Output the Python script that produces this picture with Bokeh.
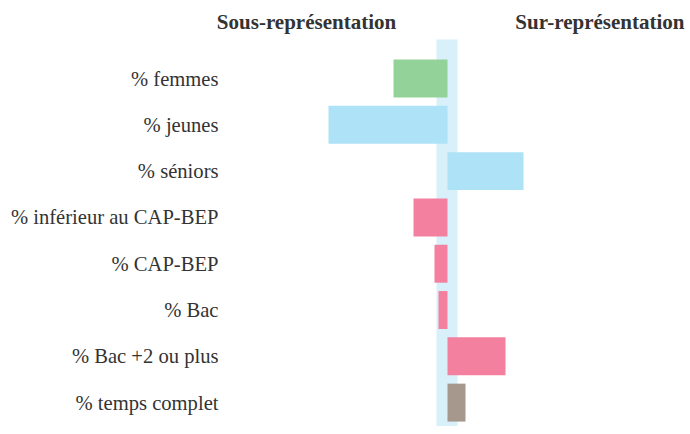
from bokeh.plotting import figure
from bokeh.models import ColumnDataSource, Range1d
from bokeh.core.properties import value
from bokeh.embed import file_html
from bokeh.resources import INLINE

categories = ["% femmes", "% jeunes", "% séniors", "% inférieur au CAP-BEP",
              "% CAP-BEP", "% Bac", "% Bac +2 ou plus", "% temps complet"]
values = [-10.8, -23.8, 15.2, -6.8, -2.6, -1.8, 11.6, 3.6]
colors = ["#93D299", "#AEE2F6", "#AEE2F6", "#F2809E",
          "#F2809E", "#F2809E", "#F2809E", "#A6988D"]
headers = ["Sous-représentation", "Sur-représentation"]

FONT = value("Liberation Serif")
W, H = 688, 426
p = figure(width=W, height=H, output_backend="svg", toolbar_location=None,
           x_range=Range1d(-89.4, 48.2), y_range=Range1d(7.516, -1.685),
           min_border=0)
p.axis.visible = False
p.grid.visible = False
p.outline_line_color = None
p.background_fill_color = "white"

idx = list(range(len(categories)))
src = ColumnDataSource(dict(y=idx, left=[min(0, v) for v in values],
                            right=[max(0, v) for v in values],
                            color=colors, label=categories))

# central band
p.quad(left=[-2.2], right=[2.0], top=[-0.842], bottom=[7.516],
       fill_color="#D8F0F9", line_color=None)

p.hbar(y="y", left="left", right="right", height=0.82, color="color",
       line_color=None, source=src)

p.text(x=-45.8, y="y", text="label", source=src, text_align="right",
       text_baseline="middle", text_font=FONT,
       text_font_size="20.6px", text_color="#333333")

p.text(x=[-28.2], y=[-1.23], text=[headers[0]], text_align="center",
       text_baseline="middle", text_font=FONT,
       text_font_size="21px", text_font_style="bold", text_color="#333333")
p.text(x=[47.4], y=[-1.23], text=[headers[1]], text_align="right",
       text_baseline="middle", text_font=FONT,
       text_font_size="21px", text_font_style="bold", text_color="#333333")

open("out.html", "w").write(file_html(p, INLINE))
